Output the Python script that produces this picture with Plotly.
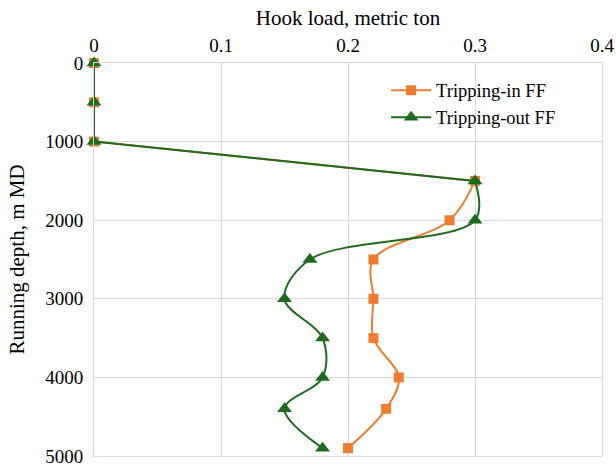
import plotly.graph_objects as go

depth = [0, 500, 1000, 1500, 2000, 2500, 3000, 3500, 4000, 4400, 4900]
tripping_in = [0, 0, 0, 0.30, 0.28, 0.22, 0.22, 0.22, 0.24, 0.23, 0.20]
tripping_out = [0, 0, 0, 0.30, 0.30, 0.17, 0.15, 0.18, 0.18, 0.15, 0.18]
x_ticks = [0, 0.1, 0.2, 0.3, 0.4]
x_tick_labels = ["0", "0.1", "0.2", "0.3", "0.4"]
y_ticks = [0, 1000, 2000, 3000, 4000, 5000]

font_family = "Liberation Serif"

series = [
    ("Tripping-in FF", tripping_in, "#ED7D31", "square", 10),
    ("Tripping-out FF", tripping_out, "#1E6B1E", "triangle-up", 13),
]

fig = go.Figure()
for name, vals, color, symbol, msize in series:
    marker = dict(symbol=symbol, size=msize, color=color)
    # shallow part (0 - 1000 m)
    fig.add_trace(go.Scatter(
        x=vals[:3], y=depth[:3], mode="lines+markers", showlegend=False,
        line=dict(color=color, width=2), marker=marker, cliponaxis=False,
        hoverinfo="skip",
    ))
    # transition 1000 - 1500 m
    fig.add_trace(go.Scatter(
        x=vals[2:4], y=depth[2:4], mode="lines", showlegend=False,
        line=dict(color=color, width=2, shape="spline", smoothing=0.2),
        cliponaxis=False, hoverinfo="skip",
    ))
    # deeper part, smoothed
    fig.add_trace(go.Scatter(
        x=vals[3:], y=depth[3:], name=name, mode="lines+markers",
        line=dict(color=color, width=2, shape="spline", smoothing=1),
        marker=marker, cliponaxis=False,
    ))

fig.update_layout(
    width=616, height=470,
    margin=dict(l=94, r=14, t=63, b=14),
    paper_bgcolor="white", plot_bgcolor="white",
    font=dict(family=font_family, size=19, color="#000000"),
    showlegend=True,
    legend=dict(x=0.575, y=0.978, xanchor="left", yanchor="top",
                bgcolor="rgba(0,0,0,0)", font=dict(size=18.5),
                itemwidth=40, tracegroupgap=0),
    xaxis=dict(
        side="top", range=[0, 0.4], tickvals=x_ticks, ticktext=x_tick_labels,
        showgrid=True, gridcolor="#D9D9D9", gridwidth=1,
        showline=True, linecolor="#D9D9D9", linewidth=1, mirror=True,
        zeroline=False, ticks="", ticklabelstandoff=2, automargin=False,
        title=dict(text="Hook load, metric ton", standoff=4,
                   font=dict(size=21)),
    ),
    yaxis=dict(
        range=[5000, 0], tickvals=y_ticks,
        showgrid=True, gridcolor="#D9D9D9", gridwidth=1,
        showline=True, linecolor="#D9D9D9", linewidth=1, mirror=True,
        zeroline=False, ticks="", ticklabelstandoff=6, automargin=False,
        title=dict(text="Running depth, m MD", standoff=14,
                   font=dict(size=21)),
    ),
)

fig.write_html("out.html", config={"displayModeBar": False},
               post_script="document.body.style.margin='0';")
